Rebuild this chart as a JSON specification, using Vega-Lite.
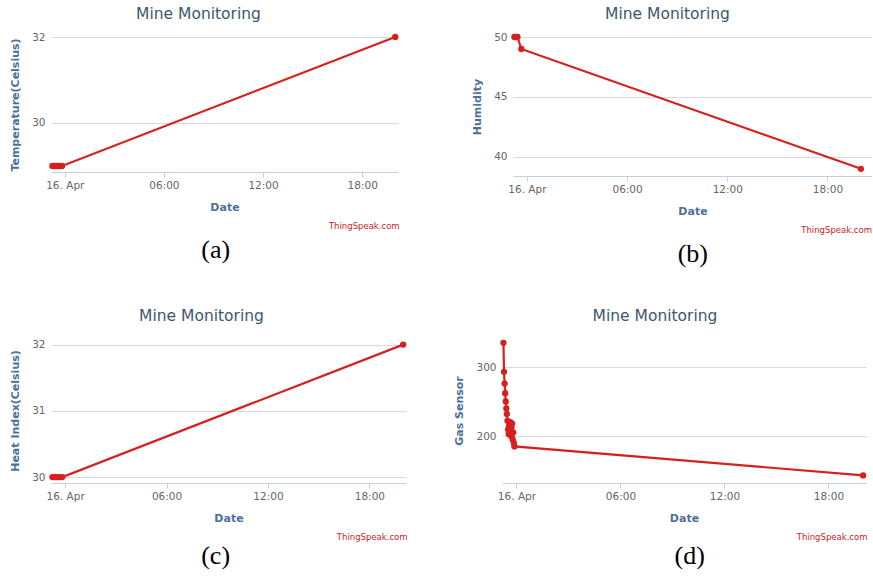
{
  "$schema": "https://vega.github.io/schema/vega-lite/v6.json",
  "background": "white",
  "padding": {"left": 9, "top": 6, "right": 0, "bottom": 0},
  "datasets": {
    "temp": [
      {"time": "2018-04-15T23:15:00", "value": 29},
      {"time": "2018-04-15T23:22:00", "value": 29},
      {"time": "2018-04-15T23:29:00", "value": 29},
      {"time": "2018-04-15T23:36:00", "value": 29},
      {"time": "2018-04-15T23:43:00", "value": 29},
      {"time": "2018-04-15T23:50:00", "value": 29},
      {"time": "2018-04-16T20:00:00", "value": 32}
    ],
    "hum": [
      {"time": "2018-04-15T23:15:00", "value": 50},
      {"time": "2018-04-15T23:20:00", "value": 50},
      {"time": "2018-04-15T23:26:00", "value": 50},
      {"time": "2018-04-15T23:40:00", "value": 49},
      {"time": "2018-04-16T20:00:00", "value": 39}
    ],
    "heat": [
      {"time": "2018-04-15T23:15:00", "value": 30},
      {"time": "2018-04-15T23:22:00", "value": 30},
      {"time": "2018-04-15T23:29:00", "value": 30},
      {"time": "2018-04-15T23:36:00", "value": 30},
      {"time": "2018-04-15T23:43:00", "value": 30},
      {"time": "2018-04-15T23:50:00", "value": 30},
      {"time": "2018-04-16T20:00:00", "value": 32}
    ],
    "gas": [
      {"time": "2018-04-15T23:15:00", "value": 335},
      {"time": "2018-04-15T23:17:00", "value": 293},
      {"time": "2018-04-15T23:19:00", "value": 276},
      {"time": "2018-04-15T23:21:00", "value": 262},
      {"time": "2018-04-15T23:23:00", "value": 250},
      {"time": "2018-04-15T23:25:00", "value": 240},
      {"time": "2018-04-15T23:27:00", "value": 232},
      {"time": "2018-04-15T23:29:00", "value": 222},
      {"time": "2018-04-15T23:31:00", "value": 210},
      {"time": "2018-04-15T23:33:00", "value": 203},
      {"time": "2018-04-15T23:35:00", "value": 215},
      {"time": "2018-04-15T23:37:00", "value": 205},
      {"time": "2018-04-15T23:39:00", "value": 220},
      {"time": "2018-04-15T23:41:00", "value": 200},
      {"time": "2018-04-15T23:43:00", "value": 212},
      {"time": "2018-04-15T23:45:00", "value": 218},
      {"time": "2018-04-15T23:47:00", "value": 195},
      {"time": "2018-04-15T23:49:00", "value": 205},
      {"time": "2018-04-15T23:51:00", "value": 190},
      {"time": "2018-04-15T23:53:00", "value": 185},
      {"time": "2018-04-16T20:00:00", "value": 143}
    ]
  },
  "config": {
    "view": {"stroke": null},
    "font": "DejaVu Sans",
    "title": {"font": "DejaVu Sans", "fontSize": 15.5, "fontWeight": "normal", "color": "#3E576F", "offset": 10},
    "axis": {
      "labelFont": "DejaVu Sans", "labelFontSize": 10.5, "labelColor": "#666666",
      "titleFont": "DejaVu Sans", "titleFontSize": 11, "titleFontWeight": "bold", "titleColor": "#4d6f99"
    },
    "axisX": {
      "grid": false, "domainColor": "#c0d0e0", "tickColor": "#c0d0e0", "tickSize": 5,
      "labelPadding": 3, "titlePadding": 11,
      "labelExpr": "hours(datum.value) == 0 ? timeFormat(datum.value, '%d. %b') : timeFormat(datum.value, '%H:%M')",
      "labelFlush": false
    },
    "axisY": {
      "grid": true, "gridColor": "#d9d9d9", "domain": false, "ticks": false, "labelPadding": 6, "titlePadding": 11, "format": "d"
    },
    "line": {"color": "#d62020", "strokeWidth": 2.2},
    "point": {"color": "#d62020", "filled": true, "size": 40, "opacity": 1}
  },
  "vconcat": [
    {
      "hconcat": [
        {
          "title": {"text": "(a)", "orient": "bottom", "font": "Liberation Serif", "fontSize": 26, "fontWeight": "normal", "color": "#000000", "anchor": "middle", "offset": 7, "dx": 11},
          "vconcat": [
            {
              "title": {"text": "ThingSpeak.com", "orient": "bottom", "anchor": "end", "font": "DejaVu Sans", "fontSize": 8.5, "fontWeight": "normal", "color": "#cc2222", "offset": 9},
              "vconcat": [
                {
                  "title": {"text": "Mine Monitoring", "dx": -26},
                  "width": 347, "height": 135,
                  "data": {"name": "temp"},
                  "mark": {"type": "line", "point": true},
                  "encoding": {
                    "x": {"field": "time", "type": "temporal", "title": "Date",
                      "scale": {"domain": [{"year": 2018, "month": 4, "date": 15, "hours": 23, "minutes": 10}, {"year": 2018, "month": 4, "date": 16, "hours": 20, "minutes": 10}]},
                      "axis": {"values": [{"year": 2018, "month": 4, "date": 16, "hours": 0}, {"year": 2018, "month": 4, "date": 16, "hours": 6}, {"year": 2018, "month": 4, "date": 16, "hours": 12}, {"year": 2018, "month": 4, "date": 16, "hours": 18}]}},
                    "y": {"field": "value", "type": "quantitative", "title": "Temperature(Celsius)",
                      "scale": {"domain": [28.86, 32], "nice": false, "zero": false}, "axis": {"values": [30, 32]}}
                  }
                }
              ]
            }
          ]
        },
        {
          "title": {"text": "(b)", "orient": "bottom", "font": "Liberation Serif", "fontSize": 26, "fontWeight": "normal", "color": "#000000", "anchor": "middle", "offset": 7, "dx": 21},
          "vconcat": [
            {
              "title": {"text": "ThingSpeak.com", "orient": "bottom", "anchor": "end", "font": "DejaVu Sans", "fontSize": 8.5, "fontWeight": "normal", "color": "#cc2222", "offset": 9},
              "vconcat": [
                {
                  "title": {"text": "Mine Monitoring", "dx": -25},
                  "width": 359, "height": 139,
                  "data": {"name": "hum"},
                  "mark": {"type": "line", "point": true},
                  "encoding": {
                    "x": {"field": "time", "type": "temporal", "title": "Date",
                      "scale": {"domain": [{"year": 2018, "month": 4, "date": 15, "hours": 23, "minutes": 10}, {"year": 2018, "month": 4, "date": 16, "hours": 20, "minutes": 40}]},
                      "axis": {"values": [{"year": 2018, "month": 4, "date": 16, "hours": 0}, {"year": 2018, "month": 4, "date": 16, "hours": 6}, {"year": 2018, "month": 4, "date": 16, "hours": 12}, {"year": 2018, "month": 4, "date": 16, "hours": 18}]}},
                    "y": {"field": "value", "type": "quantitative", "title": "Humidity",
                      "scale": {"domain": [38.4, 50], "nice": false, "zero": false}, "axis": {"values": [40, 45, 50]}}
                  }
                }
              ]
            }
          ]
        }
      ],
      "spacing": 71
    },
    {
      "hconcat": [
        {
          "title": {"text": "(c)", "orient": "bottom", "font": "Liberation Serif", "fontSize": 26, "fontWeight": "normal", "color": "#000000", "anchor": "middle", "offset": 2, "dx": 7},
          "vconcat": [
            {
              "title": {"text": "ThingSpeak.com", "orient": "bottom", "anchor": "end", "font": "DejaVu Sans", "fontSize": 8.5, "fontWeight": "normal", "color": "#cc2222", "offset": 9},
              "vconcat": [
                {
                  "title": {"text": "Mine Monitoring", "dx": -27, "offset": 14},
                  "width": 355, "height": 145,
                  "data": {"name": "heat"},
                  "mark": {"type": "line", "point": true},
                  "encoding": {
                    "x": {"field": "time", "type": "temporal", "title": "Date",
                      "scale": {"domain": [{"year": 2018, "month": 4, "date": 15, "hours": 23, "minutes": 10}, {"year": 2018, "month": 4, "date": 16, "hours": 20, "minutes": 10}]},
                      "axis": {"values": [{"year": 2018, "month": 4, "date": 16, "hours": 0}, {"year": 2018, "month": 4, "date": 16, "hours": 6}, {"year": 2018, "month": 4, "date": 16, "hours": 12}, {"year": 2018, "month": 4, "date": 16, "hours": 18}]}},
                    "y": {"field": "value", "type": "quantitative", "title": "Heat Index(Celsius)",
                      "scale": {"domain": [29.91, 32.1], "nice": false, "zero": false}, "axis": {"values": [30, 31, 32]}}
                  }
                }
              ]
            }
          ]
        },
        {
          "title": {"text": "(d)", "orient": "bottom", "font": "Liberation Serif", "fontSize": 26, "fontWeight": "normal", "color": "#000000", "anchor": "middle", "offset": 2, "dx": 29},
          "vconcat": [
            {
              "title": {"text": "ThingSpeak.com", "orient": "bottom", "anchor": "end", "font": "DejaVu Sans", "fontSize": 8.5, "fontWeight": "normal", "color": "#cc2222", "offset": 9},
              "vconcat": [
                {
                  "title": {"text": "Mine Monitoring", "dx": -29, "offset": 14},
                  "width": 364, "height": 145,
                  "data": {"name": "gas"},
                  "mark": {"type": "line", "point": true},
                  "encoding": {
                    "x": {"field": "time", "type": "temporal", "title": "Date",
                      "scale": {"domain": [{"year": 2018, "month": 4, "date": 15, "hours": 23, "minutes": 10}, {"year": 2018, "month": 4, "date": 16, "hours": 20, "minutes": 10}]},
                      "axis": {"values": [{"year": 2018, "month": 4, "date": 16, "hours": 0}, {"year": 2018, "month": 4, "date": 16, "hours": 6}, {"year": 2018, "month": 4, "date": 16, "hours": 12}, {"year": 2018, "month": 4, "date": 16, "hours": 18}]}},
                    "y": {"field": "value", "type": "quantitative", "title": "Gas Sensor",
                      "scale": {"domain": [132, 342], "nice": false, "zero": false}, "axis": {"values": [200, 300]}}
                  }
                }
              ]
            }
          ]
        }
      ],
      "spacing": 45
    }
  ],
  "spacing": 41
}
